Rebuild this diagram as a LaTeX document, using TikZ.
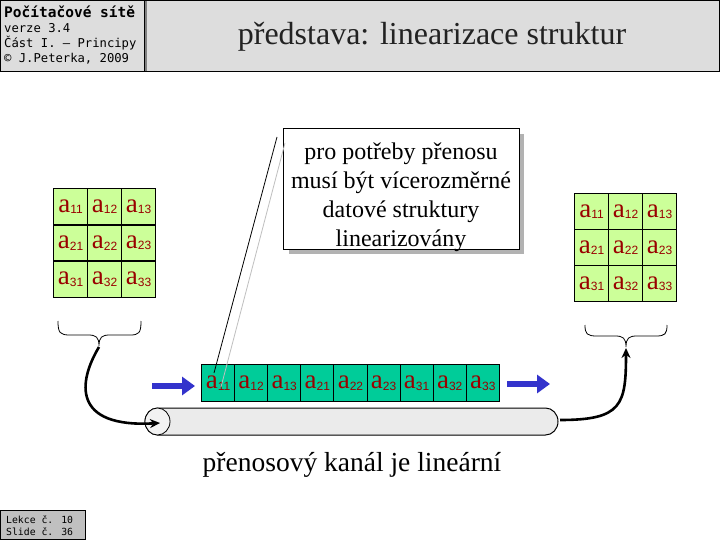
\documentclass[tikz,border=0pt]{standalone}
\usepackage{fontspec}
\setmainfont{Liberation Serif}
\newfontfamily\subf{Liberation Sans}
\newfontfamily\monof{DejaVu Sans Mono}
\usetikzlibrary{arrows.meta}
\definecolor{hdrgray}{HTML}{DDDDDD}
\definecolor{footgray}{HTML}{C0C0C0}
\definecolor{cellgreen}{HTML}{CCFF99}
\definecolor{stripgreen}{HTML}{00CC99}
\definecolor{elemred}{HTML}{990000}
\definecolor{arrowblue}{HTML}{3333CC}
\definecolor{pipegray}{HTML}{EBEBEB}
\newcommand{\ael}[1]{{\fontsize{27}{27}\selectfont a}\raisebox{-1.5pt}{\subf\fontsize{12}{12}\selectfont #1}}
\tikzset{
  cellbox/.style={draw=black, line width=1.3pt, fill=cellgreen, minimum width=34pt, minimum height=36pt, inner sep=0pt, text=elemred, anchor=north west},
  stripbox/.style={draw=black, line width=1pt, fill=stripgreen, minimum width=33.1pt, minimum height=37pt, inner sep=0pt, text=elemred, anchor=north west},
  bluearrow/.style={arrowblue, line width=6pt, -{Triangle[length=13pt,width=18pt]}},
  bigarrow/.style={black, line width=2.6pt, -{Stealth[length=10pt,width=9pt]}},
  bracestyle/.style={black, line width=0.8pt},
}
\begin{document}
\begin{tikzpicture}[x=1pt,y=-1pt]
\useasboundingbox (0,0) rectangle (720,540);
\fill[white] (0,0) rectangle (720,540);
% header
\draw[fill=hdrgray, line width=1pt] (0.5,0.5) rectangle (144,72);
\draw[fill=hdrgray, line width=1pt] (144,0.5) rectangle (719.5,72);
\draw[gray, line width=2pt] (146,1) -- (146,71);
\node[anchor=base west, inner sep=0pt, font=\monof\bfseries\fontsize{14.5}{14.5}\selectfont] (h1) at (4,18) {Počítačové sítě};
\node[anchor=base west, inner sep=0pt, font=\monof\fontsize{12.2}{12.2}\selectfont] (h2) at (4,33) {verze 3.4};
\node[anchor=base west, inner sep=0pt, font=\monof\fontsize{12.2}{12.2}\selectfont] (h3) at (4,48) {Část I. – Principy};
\node[anchor=base west, inner sep=0pt, font=\monof\fontsize{12.2}{12.2}\selectfont] (h4) at (4,63) {© J.Peterka, 2009};
\node[font=\fontsize{32}{32}\selectfont, text={rgb,255:red,34;green,34;blue,34}] (title) at (432,37) {představa: linearizace struktur};
% footer
\draw[fill=footgray, line width=1pt] (0.5,510) rectangle (85,539.5);
\node[anchor=base west, inner sep=0pt, font=\monof\fontsize{9.8}{9.8}\selectfont] (f1) at (6,523) {Lekce č. 10};
\node[anchor=base west, inner sep=0pt, font=\monof\fontsize{9.8}{9.8}\selectfont] (f2) at (6,535) {Slide č. 36};
% matrices
\foreach \r in {1,2,3} {
  \foreach \c in {1,2,3} {
    \node[cellbox] (L\r\c) at ({53+34*(\c-1)},{188+36.3*(\r-1)}) {\ael{\r\c}};
    \node[cellbox] (R\r\c) at ({574+34*(\c-1)},{193+36*(\r-1)}) {\ael{\r\c}};
  }
}
% braces
\draw[bracestyle] (58,321) .. controls (58,333) and (60,335) .. (70,335) -- (88,335) .. controls (96,335) and (99,337) .. (99,346)
  .. controls (99,337) and (102,335) .. (110,335) -- (130,335) .. controls (139,335) and (141,333) .. (141,321);
\coordinate (lbtip) at (99,347);
\draw[bracestyle] (585,325) .. controls (585,334) and (587,336) .. (597,336) -- (615,336) .. controls (623,336) and (626,338) .. (626,347)
  .. controls (626,338) and (629,336) .. (637,336) -- (656,336) .. controls (665,336) and (667,334) .. (667,325);
\coordinate (rbtip) at (626,348);
% strip
\foreach \e [count=\i from 0] in {11,12,13,21,22,23,31,32,33} {
  \node[stripbox] (S\e) at ({201+33.1*\i},364) {\ael{\e}};
}
% blue arrows
\coordinate (ba1s) at (152,386);
\coordinate (ba1e) at (195,386);
\coordinate (ba2s) at (507,384);
\coordinate (ba2e) at (550,384);
\draw[bluearrow] (ba1s) -- (ba1e);
\draw[bluearrow] (ba2s) -- (ba2e);
% pipe
\draw[fill=pipegray, line width=1pt] (157.5,408) -- (545.5,408) arc[start angle=-90, end angle=90, x radius=12.5, y radius=13.5] -- (157.5,435) arc[start angle=90, end angle=270, x radius=12.5, y radius=13.5] -- cycle;
\draw[fill={rgb,255:red,242;green,242;blue,242}, line width=0.8pt] (157.5,421.5) ellipse [x radius=12.5, y radius=13.5];
\coordinate (pipein) at (160,423);
\coordinate (pipeout) at (560,420);
% curved arrows
\draw[bigarrow] (lbtip) .. controls (78,382) and (72,428) .. (pipein);
\draw[bigarrow] (pipeout) .. controls (622,420) and (626,405) .. (rbtip);
% callout
\fill[gray!60] (289,134) rectangle (524,254);
\node[draw=black, fill=white, line width=1pt, minimum width=236pt, minimum height=121pt, anchor=north west, inner sep=0pt] (callout) at (283,128) {};
\node[align=center, font=\fontsize{24}{29}\selectfont] (ctext) at (401,197) {pro potřeby přenosu\\musí být vícerozměrné\\datové struktury\\linearizovány};
\coordinate (pk1) at (277,137);
\coordinate (pk2) at (285,143);
\coordinate (pt1) at (214,373);
\coordinate (pt2) at (221,387);
\draw[black, line width=0.8pt] (pk1) -- (pt1);
\draw[gray!50, line width=0.8pt] (pk2) -- (pt2);
% bottom text
\node[font=\fontsize{27.5}{27.5}\selectfont] (chan) at (352,465) {přenosový kanál je lineární};
\end{tikzpicture}
\end{document}
